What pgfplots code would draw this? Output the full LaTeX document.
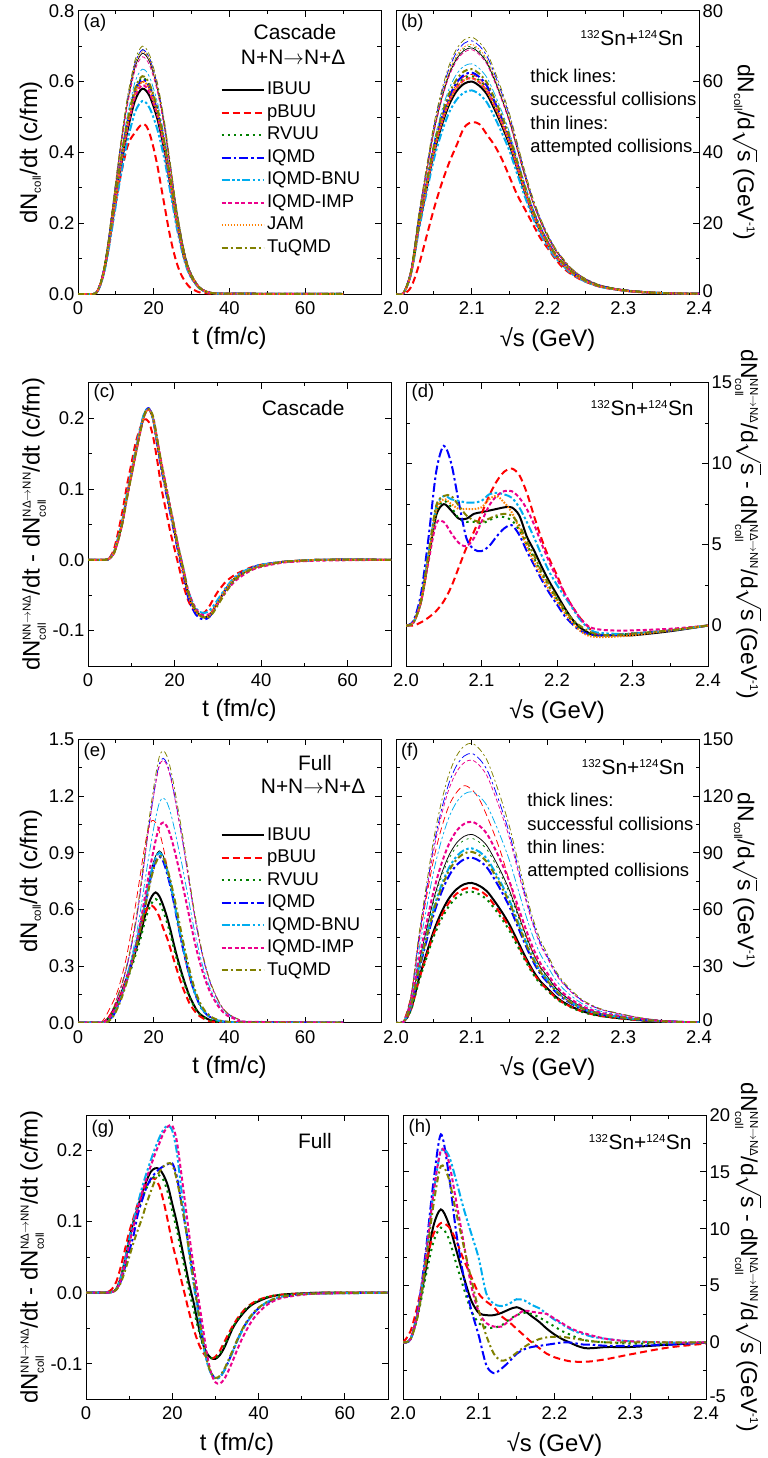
\documentclass[border=0pt]{standalone}
\usepackage{amsmath}
\usepackage{fontspec}
\setmainfont{Liberation Sans}
\usepackage{pgfplots}
\usepackage{pgfplotstable}
\pgfplotsset{compat=1.18}
\definecolor{cgreen}{RGB}{0,128,0}
\definecolor{corange}{RGB}{255,128,0}
\definecolor{colive}{RGB}{128,128,0}
\newcommand{\fs}[1]{\fontsize{#1}{#1}\selectfont}
\newcommand{\scr}[1]{\mbox{\fontsize{11.5}{11.5}\selectfont #1}}
\newcommand{\rs}{$\sqrt{\mbox{s}}$}
\newcommand{\up}[1]{\raisebox{5.5bp}{#1}}

% ---------- panel (a) ----------
\pgfplotstableread[header=false,row sep=\\]{
t 0 4 5 6 7 8 9 10 11 12 13 14 15 16 17 18 19 20 21 22 23 24 25 26 27 28 29 30 32 34 36 40 70\\
ibuuk 0 0 0.006 0.029 0.070 0.128 0.197 0.267 0.336 0.400 0.458 0.505 0.545 0.568 0.580 0.574 0.557 0.528 0.493 0.447 0.394 0.331 0.267 0.203 0.151 0.104 0.070 0.046 0.017 0.006 0.002 0.001 0\\
pbuuk 0 0 0.006 0.03 0.07 0.128 0.195 0.26 0.32 0.37 0.415 0.44 0.455 0.47 0.48 0.475 0.45 0.41 0.36 0.30 0.24 0.18 0.13 0.09 0.06 0.04 0.025 0.015 0.005 0.002 0 0 0\\
rvuuk 0 0 0.006 0.031 0.073 0.134 0.207 0.281 0.354 0.421 0.482 0.531 0.573 0.598 0.610 0.604 0.586 0.555 0.519 0.470 0.415 0.348 0.281 0.214 0.159 0.110 0.073 0.049 0.018 0.006 0.002 0.001 0\\
iqmdk 0 0 0.006 0.030 0.073 0.133 0.206 0.278 0.351 0.417 0.478 0.526 0.569 0.593 0.605 0.599 0.581 0.551 0.514 0.466 0.411 0.345 0.278 0.212 0.157 0.109 0.073 0.048 0.018 0.006 0.002 0.001 0\\
bnuk 0 0 0.005 0.027 0.065 0.120 0.185 0.251 0.316 0.376 0.431 0.474 0.512 0.534 0.545 0.540 0.523 0.496 0.463 0.420 0.371 0.311 0.251 0.191 0.142 0.098 0.065 0.044 0.016 0.005 0.002 0.001 0\\
impk 0 0 0.006 0.030 0.071 0.130 0.201 0.271 0.342 0.407 0.466 0.513 0.555 0.578 0.590 0.584 0.566 0.537 0.502 0.454 0.401 0.336 0.271 0.207 0.153 0.106 0.071 0.047 0.018 0.006 0.002 0.001 0\\
jamk 0 0 0.006 0.030 0.072 0.132 0.204 0.276 0.348 0.414 0.474 0.522 0.564 0.588 0.600 0.594 0.576 0.546 0.510 0.462 0.408 0.342 0.276 0.210 0.156 0.108 0.072 0.048 0.018 0.006 0.002 0.001 0\\
tuqk 0 0 0.006 0.031 0.074 0.135 0.209 0.283 0.357 0.424 0.486 0.535 0.578 0.603 0.615 0.609 0.590 0.560 0.523 0.474 0.418 0.351 0.283 0.215 0.160 0.111 0.074 0.049 0.018 0.006 0.002 0.001 0\\
ibuun 0 0 0.007 0.034 0.082 0.150 0.231 0.313 0.394 0.469 0.537 0.592 0.639 0.666 0.680 0.673 0.653 0.619 0.578 0.524 0.462 0.388 0.313 0.238 0.177 0.122 0.082 0.054 0.020 0.007 0.003 0.001 0\\
pbuun 0 0 0.006 0.030 0.072 0.132 0.204 0.276 0.348 0.414 0.474 0.522 0.564 0.588 0.600 0.594 0.576 0.546 0.510 0.462 0.408 0.342 0.276 0.210 0.156 0.108 0.072 0.048 0.018 0.006 0.002 0.001 0\\
rvuun 0 0 0.007 0.035 0.083 0.152 0.235 0.317 0.400 0.476 0.545 0.600 0.649 0.676 0.690 0.683 0.662 0.628 0.587 0.531 0.469 0.393 0.317 0.242 0.179 0.124 0.083 0.055 0.021 0.007 0.003 0.001 0\\
iqmdn 0 0 0.007 0.035 0.083 0.152 0.235 0.317 0.400 0.476 0.545 0.600 0.649 0.676 0.690 0.683 0.662 0.628 0.587 0.531 0.469 0.393 0.317 0.242 0.179 0.124 0.083 0.055 0.021 0.007 0.003 0.001 0\\
bnun 0 0 0.006 0.032 0.076 0.140 0.216 0.292 0.368 0.438 0.502 0.552 0.597 0.622 0.635 0.629 0.610 0.578 0.540 0.489 0.432 0.362 0.292 0.222 0.165 0.114 0.076 0.051 0.019 0.006 0.003 0.001 0\\
impn 0 0 0.007 0.034 0.080 0.147 0.228 0.308 0.389 0.462 0.529 0.583 0.630 0.657 0.670 0.663 0.643 0.610 0.570 0.516 0.456 0.382 0.308 0.235 0.174 0.121 0.080 0.054 0.020 0.007 0.003 0.001 0\\
jamn 0 0 0.007 0.034 0.082 0.151 0.233 0.315 0.397 0.473 0.541 0.596 0.644 0.671 0.685 0.678 0.658 0.623 0.582 0.527 0.466 0.390 0.315 0.240 0.178 0.123 0.082 0.055 0.021 0.007 0.003 0.001 0\\
tuqn 0 0 0.007 0.035 0.084 0.154 0.238 0.322 0.406 0.483 0.553 0.609 0.658 0.686 0.700 0.693 0.672 0.637 0.595 0.539 0.476 0.399 0.322 0.245 0.182 0.126 0.084 0.056 0.021 0.007 0.003 0.001 0\\
}\rawA
\pgfplotstabletranspose[colnames from=0]{\tabA}{\rawA}

% ---------- panel (b) ----------
\pgfplotstableread[header=false,row sep=\\]{
s 2.00 2.01 2.02 2.03 2.04 2.05 2.06 2.07 2.08 2.09 2.10 2.11 2.12 2.13 2.14 2.15 2.16 2.17 2.18 2.19 2.20 2.21 2.22 2.23 2.24 2.25 2.27 2.30 2.33 2.36 2.40\\
ibuuk 0 0.3 6 18.6 29.4 39.6 47.4 53.4 57.3 59.4 60 58.8 56.4 52.2 47.4 42 35.4 28.8 22.8 18 14.1 10.8 8.4 6.3 4.8 3.6 2.1 1.0 0.5 0.2 0.1\\
pbuuk 0 0 2 8 16 24 31 37 42 47 48.5 48 45 42 38 33 28 24 20 16 13 10 7.5 5.8 4.5 3.5 2 1 0.4 0.2 0\\
rvuuk 0 0.3 6.2 19.1 30.1 40.6 48.6 54.7 58.7 60.9 61.5 60.3 57.8 53.5 48.6 43.1 36.3 29.5 23.4 18.5 14.5 11.1 8.6 6.5 4.9 3.7 2.2 1.0 0.5 0.2 0.1\\
iqmdk 0 0.3 6.3 19.4 30.6 41.3 49.4 55.6 59.7 61.9 62.5 61.3 58.8 54.4 49.4 43.8 36.9 30.0 23.8 18.8 14.7 11.3 8.8 6.6 5.0 3.8 2.2 1.1 0.5 0.2 0.1\\
bnuk 0 0.3 5.8 17.8 28.2 38.0 45.4 51.2 54.9 56.9 57.5 56.4 54.1 50.0 45.4 40.3 33.9 27.6 21.9 17.3 13.5 10.4 8.1 6.0 4.6 3.5 2.0 1.0 0.5 0.2 0.1\\
impk 0 0.3 6.1 18.9 29.9 40.3 48.2 54.3 58.3 60.4 61 59.8 57.3 53.1 48.2 42.7 36.0 29.3 23.2 18.3 14.3 11.0 8.5 6.4 4.9 3.7 2.1 1.0 0.5 0.2 0.1\\
jamk 0 0.3 6.1 18.9 29.9 40.3 48.2 54.3 58.3 60.4 61 59.8 57.3 53.1 48.2 42.7 36.0 29.3 23.2 18.3 14.3 11.0 8.5 6.4 4.9 3.7 2.1 1.0 0.5 0.2 0.1\\
tuqk 0 0.3 6.4 19.7 31.1 41.9 50.2 56.5 60.6 62.9 63.5 62.2 59.7 55.2 50.2 44.5 37.5 30.5 24.1 19.1 14.9 11.4 8.9 6.7 5.1 3.8 2.2 1.1 0.5 0.2 0.1\\
ibuun 0 0.3 7.0 21.5 34.1 45.9 54.9 61.9 66.4 68.8 69.5 68.1 65.3 60.5 54.9 48.7 41.0 33.4 26.4 20.9 16.3 12.5 9.7 7.3 5.6 4.2 2.4 1.2 0.6 0.2 0.1\\
pbuun 0 0.3 6.2 19.2 30.4 40.9 49.0 55.2 59.2 61.4 62 60.8 58.3 53.9 49.0 43.4 36.6 29.8 23.6 18.6 14.6 11.2 8.7 6.5 5.0 3.7 2.2 1.1 0.5 0.2 0.1\\
rvuun 0 0.4 7.0 21.7 34.3 46.2 55.3 62.3 66.9 69.3 70 68.6 65.8 60.9 55.3 49.0 41.3 33.6 26.6 21.0 16.5 12.6 9.8 7.4 5.6 4.2 2.5 1.2 0.6 0.2 0.1\\
iqmdn 0 0.4 7.2 22.2 35.0 47.2 56.5 63.6 68.3 70.8 71.5 70.1 67.2 62.2 56.5 50.1 42.2 34.3 27.2 21.5 16.8 12.9 10.0 7.5 5.7 4.3 2.5 1.2 0.6 0.2 0.1\\
bnun 0 0.3 6.5 20.2 31.9 42.9 51.4 57.9 62.1 64.4 65 63.7 61.1 56.6 51.4 45.5 38.4 31.2 24.7 19.5 15.3 11.7 9.1 6.8 5.2 3.9 2.3 1.1 0.5 0.2 0.1\\
impn 0 0.3 6.9 21.4 33.8 45.5 54.5 61.4 65.9 68.3 69 67.6 64.9 60.0 54.5 48.3 40.7 33.1 26.2 20.7 16.2 12.4 9.7 7.2 5.5 4.1 2.4 1.2 0.6 0.2 0.1\\
jamn 0 0.4 7.1 21.9 34.5 46.5 55.7 62.7 67.3 69.8 70.5 69.1 66.3 61.3 55.7 49.4 41.6 33.8 26.8 21.2 16.6 12.7 9.9 7.4 5.6 4.2 2.5 1.2 0.6 0.2 0.1\\
tuqn 0 0.4 7.3 22.5 35.5 47.9 57.3 64.5 69.2 71.8 72.5 71.1 68.2 63.1 57.3 50.8 42.8 34.8 27.6 21.8 17.0 13.1 10.2 7.6 5.8 4.4 2.5 1.2 0.6 0.2 0.1\\
}\rawB
\pgfplotstabletranspose[colnames from=0]{\tabB}{\rawB}

% ---------- panel (c) ----------
\pgfplotstableread[header=false,row sep=\\]{
t 0 4 5 6 7 8 9 10 11 12 13 14 15 16 17 18 19 20 21 22 23 24 25 26 27 28 29 30 31 32 34 36 38 40 45 50 55 70\\
ibuu 0 0 0.002 0.01 0.03 0.055 0.09 0.12 0.15 0.18 0.205 0.213 0.2 0.165 0.13 0.1 0.07 0.04 0.01 -0.015 -0.045 -0.062 -0.073 -0.079 -0.081 -0.079 -0.07 -0.06 -0.05 -0.04 -0.026 -0.018 -0.012 -0.008 -0.003 -0.001 0 0\\
pbuu 0 0 0.003 0.015 0.04 0.07 0.105 0.135 0.165 0.185 0.198 0.195 0.175 0.14 0.1 0.07 0.04 0.015 -0.01 -0.035 -0.055 -0.068 -0.074 -0.076 -0.074 -0.066 -0.055 -0.045 -0.037 -0.03 -0.021 -0.015 -0.01 -0.007 -0.003 -0.001 0 0\\
rvuu 0 0 0.002 0.01 0.03 0.056 0.09 0.121 0.151 0.181 0.206 0.213 0.201 0.167 0.132 0.102 0.072 0.042 0.012 -0.013 -0.043 -0.061 -0.073 -0.079 -0.081 -0.08 -0.072 -0.062 -0.052 -0.042 -0.027 -0.018 -0.012 -0.008 -0.003 -0.001 0 0\\
iqmd 0 0 0.002 0.01 0.03 0.055 0.09 0.12 0.152 0.182 0.206 0.214 0.2 0.163 0.127 0.096 0.066 0.036 0.006 -0.02 -0.05 -0.067 -0.078 -0.083 -0.084 -0.081 -0.072 -0.061 -0.05 -0.04 -0.026 -0.017 -0.011 -0.007 -0.003 -0.001 0 0\\
bnu 0 0 0.002 0.011 0.032 0.058 0.093 0.124 0.155 0.184 0.207 0.213 0.2 0.166 0.132 0.102 0.072 0.043 0.014 -0.011 -0.04 -0.058 -0.069 -0.074 -0.075 -0.072 -0.065 -0.056 -0.047 -0.038 -0.024 -0.016 -0.011 -0.007 -0.003 -0.001 0 0\\
imp 0 0 0.002 0.009 0.028 0.053 0.087 0.118 0.148 0.178 0.203 0.212 0.202 0.17 0.136 0.106 0.075 0.045 0.015 -0.012 -0.04 -0.058 -0.07 -0.077 -0.078 -0.077 -0.071 -0.062 -0.053 -0.044 -0.03 -0.021 -0.014 -0.01 -0.004 -0.002 -0.001 0\\
jam 0 0 0.002 0.01 0.03 0.055 0.089 0.12 0.15 0.18 0.204 0.212 0.2 0.166 0.131 0.1 0.07 0.04 0.01 -0.016 -0.045 -0.063 -0.074 -0.08 -0.081 -0.079 -0.07 -0.06 -0.05 -0.04 -0.026 -0.018 -0.012 -0.008 -0.003 -0.001 0 0\\
tuq 0 0 0.002 0.009 0.028 0.053 0.087 0.118 0.149 0.179 0.204 0.213 0.203 0.17 0.135 0.104 0.074 0.044 0.014 -0.012 -0.042 -0.06 -0.072 -0.079 -0.082 -0.081 -0.074 -0.064 -0.054 -0.044 -0.028 -0.019 -0.013 -0.009 -0.003 -0.001 0 0\\
}\rawC
\pgfplotstabletranspose[colnames from=0]{\tabC}{\rawC}

% ---------- panel (d) ----------
\pgfplotstableread[header=false,row sep=\\]{
s 2.00 2.01 2.02 2.03 2.04 2.05 2.06 2.07 2.08 2.09 2.10 2.11 2.12 2.13 2.14 2.15 2.16 2.17 2.18 2.19 2.20 2.21 2.22 2.23 2.24 2.25 2.27 2.30 2.35 2.40\\
ibuu 0 0.2 1.5 4.2 6.8 7.5 7.1 6.6 6.6 6.9 7.0 7.1 7.2 7.3 7.3 6.8 5.5 4.6 3.6 2.7 1.9 1.1 0.4 -0.1 -0.4 -0.6 -0.6 -0.6 -0.35 0\\
pbuu 0 0 0.2 0.5 0.9 1.5 2.4 3.6 4.8 5.8 6.9 8.0 8.9 9.5 9.7 9.3 8.2 6.7 5.3 4.1 3.1 2.0 1.2 0.5 0 -0.5 -0.6 -0.5 -0.3 0\\
rvuu 0 0.2 1.5 4.3 7.0 7.7 7.3 6.6 6.4 6.4 6.3 6.5 6.7 6.7 6.5 5.9 5.0 4.1 3.2 2.4 1.6 0.9 0.3 -0.2 -0.5 -0.6 -0.6 -0.5 -0.3 0\\
iqmd 0 0.3 2.0 5.5 9.5 11.1 10.0 7.6 5.4 4.7 4.6 4.9 5.5 6.0 6.2 5.6 4.6 3.7 2.8 2.0 1.3 0.6 0.1 -0.3 -0.5 -0.6 -0.6 -0.5 -0.3 0\\
bnu 0 0.2 1.6 4.5 7.3 8.0 7.8 7.7 7.6 7.6 7.7 8.1 8.2 8.1 7.9 7.3 6.4 5.4 4.3 3.3 2.5 1.8 1.1 0.4 -0.1 -0.4 -0.5 -0.5 -0.3 0\\
imp 0 0.2 1.5 4.0 6.3 6.4 5.7 5.1 4.9 5.4 6.4 7.4 8.0 8.3 8.3 7.9 7.2 6.2 5.0 3.9 2.9 2.0 1.2 0.5 0 -0.2 -0.3 -0.3 -0.2 0\\
jam 0 0.2 1.5 4.3 7.1 7.8 7.5 7.2 7.2 7.2 7.3 7.8 8.0 7.6 7.0 6.0 4.9 3.9 3.0 2.2 1.5 0.8 0.2 -0.3 -0.6 -0.7 -0.7 -0.6 -0.3 0\\
tuq 0 0.2 1.6 4.5 7.4 8.0 8.0 7.4 6.8 6.5 6.4 6.6 6.8 6.9 6.8 6.2 5.2 4.3 3.3 2.5 1.7 1.0 0.4 0 -0.3 -0.5 -0.6 -0.5 -0.3 0\\
}\rawD
\pgfplotstabletranspose[colnames from=0]{\tabD}{\rawD}

% ---------- panel (e) ----------
\pgfplotstableread[header=false,row sep=\\]{
t 0 5.5 6.5 7.5 8.5 9.5 10.5 11.5 12.5 13.5 14.5 15.5 16.5 17.5 18.5 19.5 20.5 21.5 22.5 23.5 24.5 25.5 26.5 27.5 28.5 29.5 30.5 31.5 32.5 33.5 34.5 35.5 37.5 39.5 42.5 44.5 70\\
ibuuk 0 0 0 0.014 0.035 0.069 0.110 0.159 0.214 0.269 0.331 0.400 0.469 0.552 0.621 0.669 0.690 0.669 0.621 0.559 0.483 0.400 0.324 0.255 0.193 0.138 0.097 0.062 0.041 0.028 0.017 0.010 0.004 0.001 0 0 0\\
pbuuk 0 0 0 0.015 0.04 0.07 0.11 0.16 0.22 0.28 0.35 0.42 0.5 0.57 0.61 0.62 0.6 0.56 0.5 0.45 0.385 0.32 0.255 0.195 0.145 0.1 0.07 0.045 0.03 0.018 0.01 0.006 0.002 0 0 0 0\\
rvuuk 0 0 0 0.013 0.033 0.066 0.105 0.151 0.203 0.255 0.314 0.380 0.445 0.524 0.590 0.635 0.655 0.635 0.590 0.531 0.459 0.380 0.308 0.242 0.183 0.131 0.092 0.059 0.039 0.026 0.016 0.010 0.004 0.001 0 0 0\\
iqmdk 0 0 0 0 0.018 0.044 0.088 0.141 0.202 0.273 0.343 0.422 0.510 0.598 0.704 0.792 0.854 0.880 0.854 0.792 0.713 0.616 0.510 0.414 0.326 0.246 0.176 0.123 0.079 0.053 0.035 0.022 0.009 0.004 0.001 0 0\\
bnuk 0 0 0 0 0.018 0.045 0.090 0.144 0.207 0.279 0.351 0.432 0.522 0.612 0.720 0.810 0.873 0.900 0.873 0.810 0.729 0.630 0.522 0.423 0.333 0.252 0.180 0.126 0.081 0.054 0.036 0.023 0.009 0.004 0.001 0 0\\
impk 0 0 0 0.011 0.032 0.064 0.106 0.148 0.201 0.265 0.339 0.424 0.530 0.647 0.763 0.869 0.965 1.039 1.060 1.039 0.986 0.912 0.827 0.742 0.647 0.551 0.456 0.371 0.297 0.233 0.180 0.138 0.074 0.037 0.013 0.005 0\\
tuqk 0 0 0 0 0.015 0.04 0.08 0.13 0.19 0.26 0.33 0.41 0.5 0.59 0.69 0.78 0.845 0.88 0.875 0.82 0.745 0.655 0.555 0.455 0.36 0.275 0.2 0.14 0.095 0.063 0.042 0.027 0.011 0.005 0.001 0 0\\
ibuun 0 0 0 0 0.018 0.046 0.091 0.146 0.209 0.282 0.355 0.437 0.528 0.619 0.728 0.819 0.883 0.910 0.883 0.819 0.737 0.637 0.528 0.428 0.337 0.255 0.182 0.127 0.082 0.055 0.036 0.023 0.009 0.004 0.001 0 0\\
pbuun 0 0 0.01 0.04 0.08 0.12 0.17 0.24 0.32 0.42 0.54 0.66 0.79 0.92 1.02 1.07 1.06 1.01 0.93 0.83 0.72 0.61 0.5 0.4 0.31 0.23 0.17 0.12 0.08 0.055 0.038 0.025 0.01 0.004 0 0 0\\
rvuun 0 0 0 0 0.018 0.044 0.088 0.141 0.202 0.273 0.343 0.422 0.510 0.598 0.704 0.792 0.854 0.880 0.854 0.792 0.713 0.616 0.510 0.414 0.326 0.246 0.176 0.123 0.079 0.053 0.035 0.022 0.009 0.004 0.001 0 0\\
iqmdn 0 0 0 0.014 0.042 0.084 0.140 0.196 0.266 0.350 0.448 0.560 0.700 0.854 1.008 1.148 1.274 1.372 1.400 1.372 1.302 1.204 1.092 0.980 0.854 0.728 0.602 0.490 0.392 0.308 0.238 0.182 0.098 0.049 0.017 0.007 0\\
bnun 0 0 0 0.012 0.036 0.071 0.119 0.167 0.226 0.298 0.381 0.476 0.595 0.726 0.857 0.976 1.083 1.166 1.190 1.166 1.107 1.023 0.928 0.833 0.726 0.619 0.512 0.417 0.333 0.262 0.202 0.155 0.083 0.042 0.014 0.006 0\\
impn 0 0 0 0.014 0.042 0.083 0.139 0.195 0.264 0.348 0.445 0.556 0.695 0.848 1.001 1.140 1.265 1.362 1.390 1.362 1.293 1.195 1.084 0.973 0.848 0.723 0.598 0.487 0.389 0.306 0.236 0.181 0.097 0.049 0.017 0.007 0\\
tuqn 0 0 0 0.014 0.043 0.086 0.144 0.202 0.274 0.360 0.461 0.576 0.720 0.878 1.037 1.181 1.310 1.411 1.440 1.411 1.339 1.238 1.123 1.008 0.878 0.749 0.619 0.504 0.403 0.317 0.245 0.187 0.101 0.050 0.017 0.007 0\\
}\rawE
\pgfplotstabletranspose[colnames from=0]{\tabE}{\rawE}

% ---------- panel (f) ----------
\pgfplotstableread[header=false,row sep=\\]{
s 2.00 2.01 2.02 2.03 2.04 2.05 2.06 2.07 2.08 2.09 2.10 2.11 2.12 2.13 2.14 2.15 2.16 2.17 2.18 2.19 2.20 2.21 2.22 2.23 2.24 2.25 2.27 2.30 2.33 2.36 2.40\\
ibuuk 0 0.4 7.4 22.9 36.3 48.8 58.5 65.9 70.7 73.3 74 72.5 69.6 64.4 58.5 51.8 43.7 35.5 28.1 22.2 18.1 14.1 11.1 8.9 7.0 5.6 3.7 2.2 1.1 0.5 0.1\\
pbuuk 0 0.4 7.2 22.2 35.0 47.2 56.5 63.6 68.3 70.8 71.5 70.1 67.2 62.2 56.5 50.1 42.2 34.3 27.2 21.5 17.5 13.6 10.7 8.6 6.8 5.4 3.6 2.1 1.1 0.5 0.1\\
rvuuk 0 0.3 6.9 21.5 34.0 45.8 54.8 61.8 66.3 68.7 69.4 68.0 65.2 60.4 54.8 48.6 40.9 33.3 26.4 20.8 17.0 13.2 10.4 8.3 6.6 5.2 3.5 2.1 1.0 0.5 0.1\\
iqmdk 0 0.4 8.7 27.1 42.8 57.7 69.0 77.8 83.5 86.5 87.4 85.7 82.2 76.0 69.0 61.2 51.6 42.0 33.2 26.2 21.4 16.6 13.1 10.5 8.3 6.6 4.4 2.6 1.3 0.6 0.2\\
bnuk 0 0.5 9.2 28.6 45.2 60.9 72.9 82.1 88.1 91.4 92.3 90.5 86.8 80.3 72.9 64.6 54.5 44.3 35.1 27.7 22.6 17.5 13.8 11.1 8.8 6.9 4.6 2.8 1.4 0.6 0.2\\
impk 0 0.5 10.6 33.0 52.1 70.2 84.1 94.7 101.6 105.3 106.4 104.3 100.0 92.6 84.1 74.5 62.8 51.1 40.4 31.9 26.1 20.2 16.0 12.8 10.1 8.0 5.3 3.2 1.6 0.7 0.2\\
tuqk 0 0.5 9.1 28.1 44.3 59.7 71.5 80.5 86.4 89.6 90.5 88.7 85.1 78.7 71.5 63.4 53.4 43.4 34.4 27.2 22.2 17.2 13.6 10.9 8.6 6.8 4.5 2.7 1.4 0.6 0.2\\
ibuun 0 0.5 10.0 30.9 48.9 65.8 78.8 88.7 95.2 98.7 99.7 97.7 93.7 86.7 78.8 69.8 58.8 47.9 37.9 29.9 24.4 18.9 15.0 12.0 9.5 7.5 5.0 3.0 1.5 0.7 0.2\\
pbuun 0 1.5 15 42 66 87 103 115 122 125.5 123.5 118.3 109.5 99.5 88.1 74.3 60.4 47.8 37.8 29.6 22.7 17.6 13.8 11 8.7 6.9 4.6 2.8 1.4 0.6 0.2\\
rvuun 0 0.5 9.8 30.3 47.8 64.4 77.1 86.9 93.2 96.6 97.6 95.6 91.7 84.9 77.1 68.3 57.6 46.8 37.1 29.3 23.9 18.5 14.6 11.7 9.3 7.3 4.9 2.9 1.5 0.7 0.2\\
iqmdn 0 0.7 14.3 44.2 69.9 94.1 112.7 126.9 136.2 141.2 142.6 139.7 134.0 124.1 112.7 99.8 84.1 68.4 54.2 42.8 34.9 27.1 21.4 17.1 13.5 10.7 7.1 4.3 2.1 1.0 0.3\\
bnun 0 0.6 12.2 37.9 59.9 80.7 96.6 108.8 116.8 121.1 122.3 119.9 115.0 106.4 96.6 85.6 72.2 58.7 46.5 36.7 30.0 23.2 18.3 14.7 11.6 9.2 6.1 3.7 1.8 0.9 0.2\\
impn 0 0.7 13.9 43.1 68.2 91.8 109.9 123.8 132.8 137.7 139.1 136.3 130.8 121.0 109.9 97.4 82.1 66.8 52.9 41.7 34.1 26.4 20.9 16.7 13.2 10.4 7.0 4.2 2.1 1.0 0.3\\
tuqn 0 0.7 14.8 45.9 72.5 97.7 116.9 131.7 141.3 146.5 148 145.0 139.1 128.8 116.9 103.6 87.3 71.0 56.2 44.4 36.3 28.1 22.2 17.8 14.1 11.1 7.4 4.4 2.2 1.0 0.3\\
}\rawF
\pgfplotstabletranspose[colnames from=0]{\tabF}{\rawF}

% ---------- panel (g) ----------
\pgfplotstableread[header=false,row sep=\\]{
t 0 4 5 6 7 8 9 10 11 12 13 14 15 16 17 18 19 20 21 22 23 24 25 26 27 28 29 30 31 32 33 34 35 36 37 38 39 40 42 45 50 55 70\\
ibuu 0 0 0 0.001 0.005 0.02 0.045 0.075 0.1 0.12 0.14 0.157 0.17 0.175 0.174 0.165 0.15 0.125 0.1 0.07 0.04 0.01 -0.015 -0.045 -0.07 -0.085 -0.092 -0.093 -0.088 -0.078 -0.064 -0.05 -0.04 -0.032 -0.025 -0.019 -0.015 -0.012 -0.007 -0.003 -0.001 0 0\\
pbuu 0 0 0.001 0.005 0.015 0.035 0.06 0.085 0.105 0.125 0.14 0.152 0.16 0.16 0.15 0.128 0.1 0.07 0.045 0.02 -0.005 -0.03 -0.052 -0.07 -0.083 -0.091 -0.093 -0.09 -0.082 -0.07 -0.058 -0.047 -0.037 -0.029 -0.022 -0.017 -0.013 -0.01 -0.006 -0.003 -0.001 0 0\\
rvuu 0 0 0 0.001 0.005 0.02 0.043 0.07 0.095 0.115 0.132 0.147 0.158 0.164 0.165 0.158 0.14 0.115 0.09 0.06 0.03 0 -0.025 -0.05 -0.072 -0.086 -0.092 -0.092 -0.086 -0.075 -0.062 -0.049 -0.039 -0.03 -0.023 -0.018 -0.014 -0.011 -0.006 -0.003 -0.001 0 0\\
iqmd 0 0 0 0.001 0.004 0.015 0.035 0.058 0.08 0.11 0.13 0.148 0.16 0.168 0.174 0.178 0.181 0.182 0.165 0.13 0.095 0.058 0.018 -0.022 -0.062 -0.094 -0.113 -0.12 -0.119 -0.11 -0.097 -0.083 -0.068 -0.055 -0.044 -0.035 -0.028 -0.022 -0.014 -0.007 -0.002 -0.001 0\\
bnu 0 0 0 0.001 0.005 0.02 0.045 0.075 0.1 0.125 0.148 0.168 0.186 0.203 0.218 0.23 0.235 0.228 0.2 0.15 0.1 0.05 0.01 -0.03 -0.068 -0.097 -0.114 -0.121 -0.119 -0.11 -0.097 -0.083 -0.069 -0.056 -0.045 -0.036 -0.028 -0.022 -0.013 -0.006 -0.002 -0.001 0\\
imp 0 0 0 0.001 0.004 0.017 0.04 0.068 0.093 0.118 0.14 0.16 0.178 0.195 0.21 0.225 0.234 0.235 0.215 0.172 0.125 0.078 0.035 -0.005 -0.045 -0.085 -0.113 -0.126 -0.128 -0.122 -0.11 -0.096 -0.081 -0.067 -0.055 -0.044 -0.035 -0.028 -0.017 -0.008 -0.003 -0.001 0\\
tuq 0 0 0 0.001 0.004 0.013 0.03 0.05 0.07 0.088 0.105 0.125 0.142 0.158 0.17 0.178 0.182 0.18 0.16 0.13 0.095 0.055 0.015 -0.025 -0.065 -0.095 -0.113 -0.12 -0.117 -0.108 -0.095 -0.081 -0.067 -0.054 -0.043 -0.034 -0.027 -0.021 -0.013 -0.006 -0.002 -0.001 0\\
}\rawG
\pgfplotstabletranspose[colnames from=0]{\tabG}{\rawG}

% ---------- panel (h) ----------
\pgfplotstableread[header=false,row sep=\\]{
s 2.00 2.01 2.02 2.03 2.04 2.05 2.06 2.07 2.08 2.09 2.10 2.11 2.12 2.13 2.14 2.15 2.16 2.17 2.18 2.19 2.20 2.21 2.22 2.23 2.24 2.25 2.27 2.30 2.35 2.40\\
ibuu 0 0.3 2.7 6.4 10.2 11.7 10.5 8.2 5.8 3.7 2.6 2.4 2.4 2.6 2.9 3.1 2.8 2.3 1.8 1.2 0.7 0.3 0 -0.3 -0.5 -0.5 -0.4 -0.4 -0.2 0\\
pbuu 0 1.0 3.5 6.8 9.5 10.5 10.2 9.0 7.3 5.8 4.3 3.6 3.1 2.3 1.8 1.2 0.6 0 -0.5 -1.0 -1.3 -1.5 -1.65 -1.7 -1.7 -1.65 -1.45 -1.05 -0.45 -0.1\\
rvuu 0 0.3 2.5 5.8 8.8 10.1 9.2 7.0 4.8 2.8 1.7 1.3 1.3 1.5 2.0 2.4 2.6 2.5 2.2 1.8 1.4 1.0 0.7 0.4 0.2 0.1 0 -0.1 -0.1 0\\
iqmd 0 0.3 3.0 8.0 14.0 18.3 15.0 9.8 5.8 2.9 0.6 -2.0 -2.7 -2.3 -1.7 -1.0 -0.6 -0.4 -0.3 -0.2 -0.1 0 0 -0.1 -0.2 -0.2 -0.3 -0.3 -0.2 0\\
bnu 0 0.3 2.8 7.5 13.0 16.8 16.5 14.3 11.8 9.6 7.4 4.3 3.4 3.2 3.4 3.8 3.7 3.3 3.0 2.5 2.0 1.6 1.2 0.9 0.7 0.5 0.3 0.1 0 0\\
imp 0 0.3 2.8 7.5 13.0 16.9 16.0 12.5 8.8 5.0 2.7 1.7 1.4 1.4 1.9 2.4 2.8 2.7 2.6 2.5 2.1 1.7 1.3 1.0 0.8 0.6 0.3 0.1 0 0\\
tuq 0 0.3 2.5 7.0 12.0 15.5 14.5 11.5 8.5 5.6 2.8 0.6 -1.0 -1.6 -1.4 -0.9 -0.4 0 0.3 0.45 0.5 0.5 0.4 0.3 0.2 0.1 0 0 0 0\\
}\rawH
\pgfplotstabletranspose[colnames from=0]{\tabH}{\rawH}

\pgfplotsset{
  panel/.style={scale only axis, tick align=inside, xtick pos=both, ytick pos=both,
    major tick length=6bp, minor tick length=3.5bp,
    tick style={black, line width=0.8bp},
    axis line style={black, line width=0.9bp},
    tick label style={font=\fs{18.5}},
    xticklabel style={yshift=-4bp},
    label style={font=\fs{24}},
    xlabel style={yshift=-6bp},
    every axis plot/.append style={smooth},
    legend style={draw=none, fill=none, font=\fs{18.5}, inner sep=0pt, row sep=0pt,
      nodes={inner sep=2.5bp, text height=13.5bp, text depth=4bp}},
    legend cell align=left,
    legend image code/.code={\draw[##1] (0bp,0bp) -- (42bp,0bp);},
  },
  rpanel/.style={panel, yticklabel pos=right,
    ylabel style={rotate=180, at={(axis description cs:#1,0.5)}, anchor=base, inner sep=0pt, font=\fs{23}}},
  ibuu/.style={black, solid},
  pbuu/.style={red, dash pattern=on 7bp off 4bp},
  rvuu/.style={cgreen, dash pattern=on 2.2bp off 4bp},
  iqmd/.style={blue, dash pattern=on 9bp off 3bp on 2.5bp off 3bp},
  bnu/.style={cyan, dash pattern=on 8bp off 2.5bp on 2.5bp off 2.5bp on 2.5bp off 2.5bp},
  imp/.style={magenta, dash pattern=on 4bp off 2.5bp},
  jam/.style={corange, dash pattern=on 1.5bp off 1.5bp},
  tuq/.style={colive, dash pattern=on 6bp off 3bp on 2bp off 3bp},
  tk/.style={line width=2bp},
  tn/.style={line width=0.75bp},
}

\begin{document}
\begin{tikzpicture}
\path[use as bounding box] (0,0) rectangle (768bp,-1458bp);

% (a)
\begin{axis}[panel, at={(78bp,-294bp)}, anchor=south west, width=303bp, height=283.3bp,
  xmin=0, xmax=80, ymin=0, ymax=0.8,
  xtick={0,20,40,60}, xticklabels={0,20,40,60}, minor xtick={10,30,50,70},
  ytick={0,0.2,0.4,0.6,0.8}, yticklabels={0.0,0.2,0.4,0.6,0.8}, minor ytick={0.1,0.3,0.5,0.7},
  xlabel={t (fm/c)}, ylabel={dN$_{\scr{coll}}$/dt (c/fm)},
  legend style={at={(0.470,0.760)}, anchor=north west}]
\addplot[ibuu,tn,forget plot] table[x=t,y=ibuun]{\tabA};
\addplot[pbuu,tn,forget plot] table[x=t,y=pbuun]{\tabA};
\addplot[rvuu,tn,forget plot] table[x=t,y=rvuun]{\tabA};
\addplot[iqmd,tn,forget plot] table[x=t,y=iqmdn]{\tabA};
\addplot[bnu,tn,forget plot] table[x=t,y=bnun]{\tabA};
\addplot[imp,tn,forget plot] table[x=t,y=impn]{\tabA};
\addplot[jam,tn,forget plot] table[x=t,y=jamn]{\tabA};
\addplot[tuq,tn,forget plot] table[x=t,y=tuqn]{\tabA};
\addplot[ibuu,tk] table[x=t,y=ibuuk]{\tabA}; \addlegendentry{IBUU}
\addplot[pbuu,tk] table[x=t,y=pbuuk]{\tabA}; \addlegendentry{pBUU}
\addplot[rvuu,tk] table[x=t,y=rvuuk]{\tabA}; \addlegendentry{RVUU}
\addplot[iqmd,tk] table[x=t,y=iqmdk]{\tabA}; \addlegendentry{IQMD}
\addplot[bnu,tk] table[x=t,y=bnuk]{\tabA}; \addlegendentry{IQMD-BNU}
\addplot[imp,tk] table[x=t,y=impk]{\tabA}; \addlegendentry{IQMD-IMP}
\addplot[jam,tk] table[x=t,y=jamk]{\tabA}; \addlegendentry{JAM}
\addplot[tuq,tk] table[x=t,y=tuqk]{\tabA}; \addlegendentry{TuQMD}
\node[anchor=west, font=\fs{18.5}] at (rel axis cs:0.007,0.957) {(a)};
\node[font=\fs{21}] at (rel axis cs:0.716,0.925) {Cascade};
\node[font=\fs{21}] at (rel axis cs:0.710,0.837) {N+N$\rightarrow$N+Δ};
\end{axis}

% (b)
\begin{axis}[rpanel=1.128, at={(396bp,-294bp)}, anchor=south west, width=303bp, height=283.3bp,
  xmin=2, xmax=2.4, ymin=0, ymax=80,
  xtick={2,2.1,2.2,2.3,2.4}, xticklabels={2.0,2.1,2.2,2.3,2.4}, minor xtick={2.05,2.15,2.25,2.35},
  ytick={0,20,40,60,80}, yticklabels={\up{0},20,40,60,80}, minor ytick={10,30,50,70},
  xlabel={√s (GeV)}, ylabel={dN$_{\scr{coll}}$/d\rs{} (GeV$^{\scr{-1}}$)}]
\addplot[ibuu,tn] table[x=s,y=ibuun]{\tabB};
\addplot[pbuu,tn] table[x=s,y=pbuun]{\tabB};
\addplot[rvuu,tn] table[x=s,y=rvuun]{\tabB};
\addplot[iqmd,tn] table[x=s,y=iqmdn]{\tabB};
\addplot[bnu,tn] table[x=s,y=bnun]{\tabB};
\addplot[imp,tn] table[x=s,y=impn]{\tabB};
\addplot[jam,tn] table[x=s,y=jamn]{\tabB};
\addplot[tuq,tn] table[x=s,y=tuqn]{\tabB};
\addplot[ibuu,tk] table[x=s,y=ibuuk]{\tabB};
\addplot[pbuu,tk] table[x=s,y=pbuuk]{\tabB};
\addplot[rvuu,tk] table[x=s,y=rvuuk]{\tabB};
\addplot[iqmd,tk] table[x=s,y=iqmdk]{\tabB};
\addplot[bnu,tk] table[x=s,y=bnuk]{\tabB};
\addplot[imp,tk] table[x=s,y=impk]{\tabB};
\addplot[jam,tk] table[x=s,y=jamk]{\tabB};
\addplot[tuq,tk] table[x=s,y=tuqk]{\tabB};
\node[anchor=west, font=\fs{18.5}] at (rel axis cs:0.005,0.957) {(b)};
\node[anchor=east, font=\fs{21}] at (rel axis cs:0.960,0.904) {$^{\scr{132}}$Sn+$^{\scr{124}}$Sn};
\node[anchor=base west, font=\fs{18.5}] at (rel axis cs:0.432,0.746) {thick lines:};
\node[anchor=base west, font=\fs{18.5}] at (rel axis cs:0.432,0.665) {successful collisions};
\node[anchor=base west, font=\fs{18.5}] at (rel axis cs:0.432,0.580) {thin lines:};
\node[anchor=base west, font=\fs{18.5}] at (rel axis cs:0.432,0.499) {attempted collisions};
\end{axis}

% (c)
\begin{axis}[panel, at={(88bp,-666bp)}, anchor=south west, width=303bp, height=283.3bp,
  xmin=0, xmax=70, ymin=-0.15, ymax=0.25,
  xtick={0,20,40,60}, xticklabels={0,20,40,60}, minor xtick={10,30,50},
  ytick={-0.1,0,0.1,0.2}, yticklabels={-0.1,0.0,0.1,0.2}, minor ytick={-0.05,0.05,0.15},
  xlabel={t (fm/c)},
  ylabel={dN$_{\scr{coll}}^{\scr{NN$\rightarrow$NΔ}}$/dt - dN$_{\scr{coll}}^{\scr{NΔ$\rightarrow$NN}}$/dt (c/fm)}]
\addplot[ibuu,tk] table[x=t,y=ibuu]{\tabC};
\addplot[pbuu,tk] table[x=t,y=pbuu]{\tabC};
\addplot[rvuu,tk] table[x=t,y=rvuu]{\tabC};
\addplot[iqmd,tk] table[x=t,y=iqmd]{\tabC};
\addplot[bnu,tk] table[x=t,y=bnu]{\tabC};
\addplot[imp,tk] table[x=t,y=imp]{\tabC};
\addplot[jam,tk] table[x=t,y=jam]{\tabC};
\addplot[tuq,tk] table[x=t,y=tuq]{\tabC};
\node[anchor=west, font=\fs{18.5}] at (rel axis cs:0.007,0.963) {(c)};
\node[font=\fs{21}] at (rel axis cs:0.710,0.911) {Cascade};
\end{axis}

% (d)
\begin{axis}[rpanel=1.110, at={(406bp,-666bp)}, anchor=south west, width=302bp, height=283.3bp,
  xmin=2, xmax=2.4, ymin=-2.5, ymax=15,
  xtick={2,2.1,2.2,2.3,2.4}, xticklabels={2.0,2.1,2.2,2.3,2.4}, minor xtick={2.05,2.15,2.25,2.35},
  ytick={0,5,10,15}, yticklabels={0,5,10,15}, minor ytick={2.5,7.5,12.5},
  xlabel={√s (GeV)},
  ylabel={dN$_{\scr{coll}}^{\scr{NN$\rightarrow$NΔ}}$/d\rs{} - dN$_{\scr{coll}}^{\scr{NΔ$\rightarrow$NN}}$/d\rs{} (GeV$^{\scr{-1}}$)}]
\addplot[ibuu,tk] table[x=s,y=ibuu]{\tabD};
\addplot[pbuu,tk] table[x=s,y=pbuu]{\tabD};
\addplot[rvuu,tk] table[x=s,y=rvuu]{\tabD};
\addplot[iqmd,tk] table[x=s,y=iqmd]{\tabD};
\addplot[bnu,tk] table[x=s,y=bnu]{\tabD};
\addplot[imp,tk] table[x=s,y=imp]{\tabD};
\addplot[jam,tk] table[x=s,y=jam]{\tabD};
\addplot[tuq,tk] table[x=s,y=tuq]{\tabD};
\node[anchor=west, font=\fs{18.5}] at (rel axis cs:0.007,0.963) {(d)};
\node[anchor=east, font=\fs{21}] at (rel axis cs:0.964,0.911) {$^{\scr{132}}$Sn+$^{\scr{124}}$Sn};
\end{axis}

% (e)
\begin{axis}[panel, at={(78bp,-1022.7bp)}, anchor=south west, width=303bp, height=283.3bp,
  xmin=0, xmax=80, ymin=0, ymax=1.5,
  xtick={0,20,40,60}, xticklabels={0,20,40,60}, minor xtick={10,30,50,70},
  ytick={0,0.3,0.6,0.9,1.2,1.5}, yticklabels={0.0,0.3,0.6,0.9,1.2,1.5}, minor ytick={0.15,0.45,0.75,1.05,1.35},
  xlabel={t (fm/c)}, ylabel={dN$_{\scr{coll}}$/dt (c/fm)},
  legend style={at={(0.470,0.702)}, anchor=north west}]
\addplot[ibuu,tn,forget plot] table[x=t,y=ibuun]{\tabE};
\addplot[pbuu,tn,forget plot] table[x=t,y=pbuun]{\tabE};
\addplot[rvuu,tn,forget plot] table[x=t,y=rvuun]{\tabE};
\addplot[iqmd,tn,forget plot] table[x=t,y=iqmdn]{\tabE};
\addplot[bnu,tn,forget plot] table[x=t,y=bnun]{\tabE};
\addplot[imp,tn,forget plot] table[x=t,y=impn]{\tabE};
\addplot[tuq,tn,forget plot] table[x=t,y=tuqn]{\tabE};
\addplot[ibuu,tk] table[x=t,y=ibuuk]{\tabE}; \addlegendentry{IBUU}
\addplot[pbuu,tk] table[x=t,y=pbuuk]{\tabE}; \addlegendentry{pBUU}
\addplot[rvuu,tk] table[x=t,y=rvuuk]{\tabE}; \addlegendentry{RVUU}
\addplot[iqmd,tk] table[x=t,y=iqmdk]{\tabE}; \addlegendentry{IQMD}
\addplot[bnu,tk] table[x=t,y=bnuk]{\tabE}; \addlegendentry{IQMD-BNU}
\addplot[imp,tk] table[x=t,y=impk]{\tabE}; \addlegendentry{IQMD-IMP}
\addplot[tuq,tk] table[x=t,y=tuqk]{\tabE}; \addlegendentry{TuQMD}
\node[anchor=west, font=\fs{18.5}] at (rel axis cs:0.007,0.957) {(e)};
\node[font=\fs{21}] at (rel axis cs:0.782,0.917) {Full};
\node[font=\fs{21}] at (rel axis cs:0.776,0.836) {N+N$\rightarrow$N+Δ};
\end{axis}

% (f)
\begin{axis}[rpanel=1.128, at={(396bp,-1022.7bp)}, anchor=south west, width=303bp, height=283.3bp,
  xmin=2, xmax=2.4, ymin=0, ymax=150,
  xtick={2,2.1,2.2,2.3,2.4}, xticklabels={2.0,2.1,2.2,2.3,2.4}, minor xtick={2.05,2.15,2.25,2.35},
  ytick={0,30,60,90,120,150}, yticklabels={\up{0},30,60,90,120,150}, minor ytick={15,45,75,105,135},
  xlabel={√s (GeV)}, ylabel={dN$_{\scr{coll}}$/d\rs{} (GeV$^{\scr{-1}}$)}]
\addplot[ibuu,tn] table[x=s,y=ibuun]{\tabF};
\addplot[pbuu,tn] table[x=s,y=pbuun]{\tabF};
\addplot[rvuu,tn] table[x=s,y=rvuun]{\tabF};
\addplot[iqmd,tn] table[x=s,y=iqmdn]{\tabF};
\addplot[bnu,tn] table[x=s,y=bnun]{\tabF};
\addplot[imp,tn] table[x=s,y=impn]{\tabF};
\addplot[tuq,tn] table[x=s,y=tuqn]{\tabF};
\addplot[ibuu,tk] table[x=s,y=ibuuk]{\tabF};
\addplot[pbuu,tk] table[x=s,y=pbuuk]{\tabF};
\addplot[rvuu,tk] table[x=s,y=rvuuk]{\tabF};
\addplot[iqmd,tk] table[x=s,y=iqmdk]{\tabF};
\addplot[bnu,tk] table[x=s,y=bnuk]{\tabF};
\addplot[imp,tk] table[x=s,y=impk]{\tabF};
\addplot[tuq,tk] table[x=s,y=tuqk]{\tabF};
\node[anchor=west, font=\fs{18.5}] at (rel axis cs:0.005,0.957) {(f)};
\node[anchor=east, font=\fs{21}] at (rel axis cs:0.964,0.903) {$^{\scr{132}}$Sn+$^{\scr{124}}$Sn};
\node[anchor=base west, font=\fs{18.5}] at (rel axis cs:0.422,0.763) {thick lines:};
\node[anchor=base west, font=\fs{18.5}] at (rel axis cs:0.422,0.678) {successful collisions};
\node[anchor=base west, font=\fs{18.5}] at (rel axis cs:0.422,0.597) {thin lines:};
\node[anchor=base west, font=\fs{18.5}] at (rel axis cs:0.422,0.516) {attempted collisions};
\end{axis}

% (g)
\begin{axis}[panel, at={(86bp,-1399.3bp)}, anchor=south west, width=302bp, height=284.3bp,
  xmin=0, xmax=70, ymin=-0.15, ymax=0.25,
  xtick={0,20,40,60}, xticklabels={0,20,40,60}, minor xtick={10,30,50},
  ytick={-0.1,0,0.1,0.2}, yticklabels={-0.1,0.0,0.1,0.2}, minor ytick={-0.05,0.05,0.15},
  xlabel={t (fm/c)},
  ylabel={dN$_{\scr{coll}}^{\scr{NN$\rightarrow$NΔ}}$/dt - dN$_{\scr{coll}}^{\scr{NΔ$\rightarrow$NN}}$/dt (c/fm)}]
\addplot[ibuu,tk] table[x=t,y=ibuu]{\tabG};
\addplot[pbuu,tk] table[x=t,y=pbuu]{\tabG};
\addplot[rvuu,tk] table[x=t,y=rvuu]{\tabG};
\addplot[iqmd,tk] table[x=t,y=iqmd]{\tabG};
\addplot[bnu,tk] table[x=t,y=bnu]{\tabG};
\addplot[imp,tk] table[x=t,y=imp]{\tabG};
\addplot[tuq,tk] table[x=t,y=tuq]{\tabG};
\node[anchor=west, font=\fs{18.5}] at (rel axis cs:0.007,0.953) {(g)};
\node[font=\fs{21}] at (rel axis cs:0.758,0.909) {Full};
\end{axis}

% (h)
\begin{axis}[rpanel=1.116, at={(403bp,-1399.3bp)}, anchor=south west, width=303bp, height=284.3bp,
  xmin=2, xmax=2.4, ymin=-5, ymax=20,
  xtick={2,2.1,2.2,2.3,2.4}, xticklabels={2.0,2.1,2.2,2.3,2.4}, minor xtick={2.05,2.15,2.25,2.35},
  ytick={-5,0,5,10,15,20}, yticklabels={\up{-5},0,5,10,15,20}, minor ytick={-2.5,2.5,7.5,12.5,17.5},
  xlabel={√s (GeV)},
  ylabel={dN$_{\scr{coll}}^{\scr{NN$\rightarrow$NΔ}}$/d\rs{} - dN$_{\scr{coll}}^{\scr{NΔ$\rightarrow$NN}}$/d\rs{} (GeV$^{\scr{-1}}$)}]
\addplot[ibuu,tk] table[x=s,y=ibuu]{\tabH};
\addplot[pbuu,tk] table[x=s,y=pbuu]{\tabH};
\addplot[rvuu,tk] table[x=s,y=rvuu]{\tabH};
\addplot[iqmd,tk] table[x=s,y=iqmd]{\tabH};
\addplot[bnu,tk] table[x=s,y=bnu]{\tabH};
\addplot[imp,tk] table[x=s,y=imp]{\tabH};
\addplot[tuq,tk] table[x=s,y=tuq]{\tabH};
\node[anchor=west, font=\fs{18.5}] at (rel axis cs:0.007,0.955) {(h)};
\node[anchor=east, font=\fs{21}] at (rel axis cs:0.964,0.905) {$^{\scr{132}}$Sn+$^{\scr{124}}$Sn};
\end{axis}
\end{tikzpicture}
\end{document}
